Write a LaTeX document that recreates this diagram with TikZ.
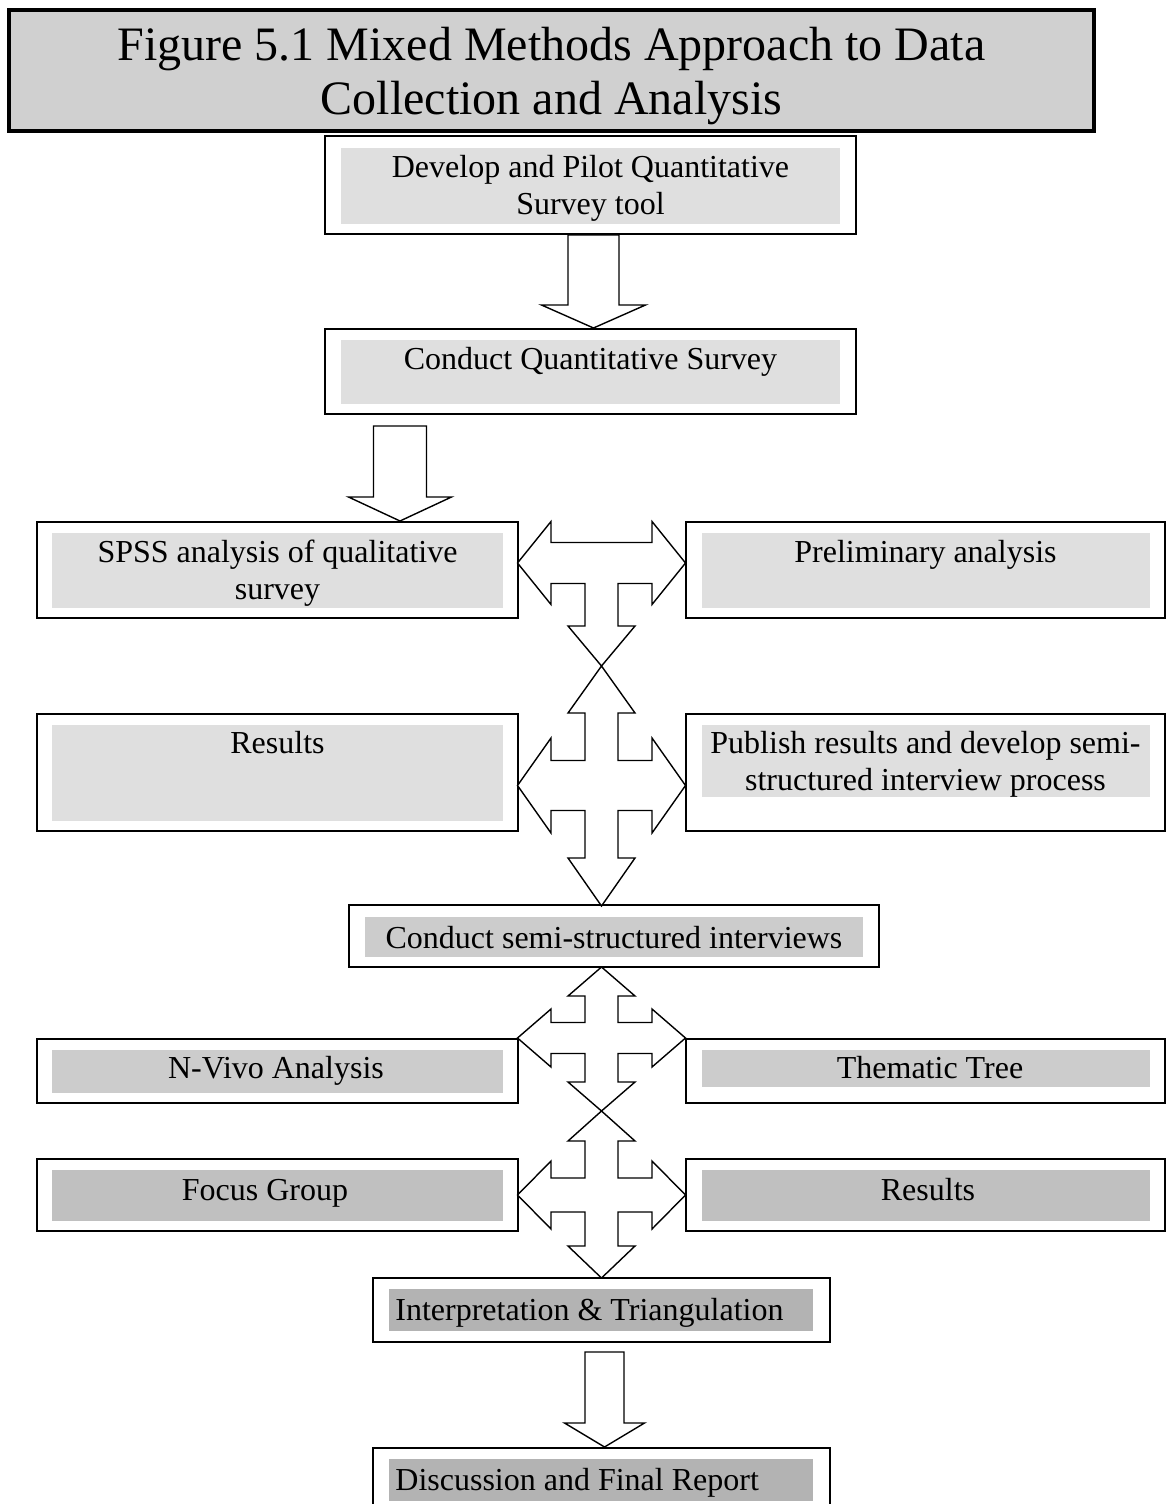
\documentclass[tikz,border=0pt]{standalone}
\usepackage{fontspec}
\setmainfont{Liberation Serif}
\usetikzlibrary{calc, fit}

\definecolor{titlegrey}{HTML}{D0D0D0}
\definecolor{palegrey}{HTML}{DFDFDF}
\definecolor{midgrey}{HTML}{CCCCCC}
\definecolor{darkgrey}{HTML}{C0C0C0}
\definecolor{deepgrey}{HTML}{B3B3B3}

\def\pxu{0.5pt}

% hollow arrow pointing down: top of shaft, tip, shaft half width, head half width, head length
\newcommand\downblock[5]{%
  \draw[blockline] let \p1=(#1), \p2=(#2) in
    (\x1-#3*\pxu,\y1) -- (\x1+#3*\pxu,\y1) -- (\x1+#3*\pxu,\y2+#5*\pxu)
    -- (\x1+#4*\pxu,\y2+#5*\pxu) -- (\x1,\y2) -- (\x1-#4*\pxu,\y2+#5*\pxu)
    -- (\x1-#3*\pxu,\y2+#5*\pxu) -- cycle;}

% four way hollow arrow: centre, up tip, up head, down tip, down head, bar half, head half
\newcommand\quadblock[7]{%
  \draw[blockline, shift={(#1)}]
    (0,-#2) -- (33.5,-#2+#3) -- (16.5,-#2+#3) -- (16.5,-#6) -- (50.5,-#6)
    -- (50.5,-#7) -- (84,0) -- (50.5,#7) -- (50.5,#6) -- (16.5,#6)
    -- (16.5,#4-#5) -- (33.5,#4-#5) -- (0,#4) -- (-33.5,#4-#5) -- (-16.5,#4-#5)
    -- (-16.5,#6) -- (-50.5,#6) -- (-50.5,#7) -- (-84,0) -- (-50.5,-#7)
    -- (-50.5,-#6) -- (-16.5,-#6) -- (-16.5,-#2+#3) -- (-33.5,-#2+#3) -- cycle;}

\begin{document}
\begin{tikzpicture}[x=0.5pt, y=-0.5pt, font=\fontsize{16}{18.5}\selectfont,
    outerbox/.style={draw, line width=1pt, fill=white, inner sep=0pt},
    titlebox/.style={draw, line width=2pt, fill=titlegrey, inner sep=0pt},
    txt/.style={inner sep=0pt, align=center},
    blockline/.style={draw, line width=0.7pt, fill=white}]

  \path[use as bounding box, clip] (0,0) rectangle (1167,1504);

  % Heading
  \node[titlebox, fit={(9,10) (1094,131)}] (title) {};
  \node[txt, font=\fontsize{24}{27}\selectfont] (titletxt) at ($(title.center)+(0,6)$)
    {Figure 5.1 Mixed Methods Approach to Data\\Collection and Analysis};

  % Survey stage
  \node[outerbox, fit={(325,136) (856,234)}] (dev) {};
  \fill[palegrey] (341,148) rectangle (840,224);
  \node[txt, anchor=base] (devtxt) at (590.5,214)
    {Develop and Pilot Quantitative\\Survey tool};

  \node[outerbox, fit={(325,329) (856,414)}] (cqs) {};
  \fill[palegrey] (341,340) rectangle (840,404);
  \node[txt, anchor=base] (cqstxt) at (590.5,369) {Conduct Quantitative Survey};

  \node[outerbox, fit={(37,522) (518,618)}] (spss) {};
  \fill[palegrey] (52,533) rectangle (503,608);
  \node[txt, anchor=base] (spsstxt) at (277.5,599)
    {SPSS analysis of qualitative\\survey};

  \node[outerbox, fit={(686,522) (1165,618)}] (prelim) {};
  \fill[palegrey] (702,533) rectangle (1150,608);
  \node[txt, anchor=base] (prelimtxt) at (925.5,562) {Preliminary analysis};

  \node[outerbox, fit={(37,714) (518,831)}] (res) {};
  \fill[palegrey] (52,725) rectangle (503,821);
  \node[txt, anchor=base] (restxt) at (277.5,753) {Results};

  \node[outerbox, fit={(686,714) (1165,831)}] (pub) {};
  \fill[palegrey] (702,725) rectangle (1150,797);
  \node[txt, anchor=base] (pubtxt) at (925.5,790)
    {Publish results and develop semi-\\structured interview process};

  % Interview stage
  \node[outerbox, fit={(349,905) (879,967)}] (csi) {};
  \fill[midgrey] (365,917) rectangle (863,957);
  \node[txt, anchor=base] (csitxt) at (614,948) {Conduct semi-structured interviews};

  \node[outerbox, fit={(37,1039) (518,1103)}] (nvivo) {};
  \fill[midgrey] (52,1050) rectangle (503,1093);
  \node[txt, anchor=base] (nvivotxt) at (276,1078) {N-Vivo Analysis};

  \node[outerbox, fit={(686,1039) (1165,1103)}] (theme) {};
  \fill[midgrey] (702,1050) rectangle (1150,1087);
  \node[txt, anchor=base] (themetxt) at (930,1078) {Thematic Tree};

  \node[outerbox, fit={(37,1159) (518,1231)}] (focus) {};
  \fill[darkgrey] (52,1170) rectangle (503,1221);
  \node[txt, anchor=base] (focustxt) at (265,1200) {Focus Group};

  \node[outerbox, fit={(686,1159) (1165,1231)}] (resb) {};
  \fill[darkgrey] (702,1170) rectangle (1150,1221);
  \node[txt, anchor=base] (resbtxt) at (928,1200) {Results};

  % Final stage
  \node[outerbox, fit={(373,1278) (830,1342)}] (interp) {};
  \fill[deepgrey] (389,1289) rectangle (813,1331);
  \node[txt, anchor=base west] (interptxt) at (395,1320) {Interpretation \& Triangulation};

  \node[outerbox, fit={(373,1448) (830,1512)}] (disc) {};
  \fill[deepgrey] (389,1459) rectangle (813,1501);
  \node[txt, anchor=base west] (disctxt) at (395,1490) {Discussion and Final Report};

  % Hollow arrows
  \coordinate (a2) at (400,426);
  \downblock{$(dev.south)+(3,0)$}{cqs.north}{25.5}{52}{23}
  \downblock{a2}{spss.north}{26.5}{51.5}{24}
  \downblock{$(interp.south)+(3,9)$}{disc.north}{19.5}{40}{24}

  % left-right-down arrow between the analysis boxes
  \coordinate (t0) at (601.5,563);
  \draw[blockline, shift={(t0)}]
    (-84,0) -- (-50.5,-41.5) -- (-50.5,-20.5) -- (50.5,-20.5) -- (50.5,-41.5)
    -- (84,0) -- (50.5,41.5) -- (50.5,20.5) -- (16.5,20.5) -- (16.5,63)
    -- (33.5,63) -- (0,103) -- (-33.5,63) -- (-16.5,63) -- (-16.5,20.5)
    -- (-50.5,20.5) -- (-50.5,41.5) -- cycle;

  \coordinate (q1) at (601.5,785.5);
  \coordinate (q2) at (601.5,1038);
  \coordinate (q3) at (601.5,1195);
  \quadblock{q1}{119.5}{47}{120.5}{48}{25}{47.5}
  \quadblock{q2}{71}{29}{73}{29}{15.5}{29}
  \quadblock{q3}{84}{30}{83}{32}{17}{34}

\end{tikzpicture}
\end{document}
